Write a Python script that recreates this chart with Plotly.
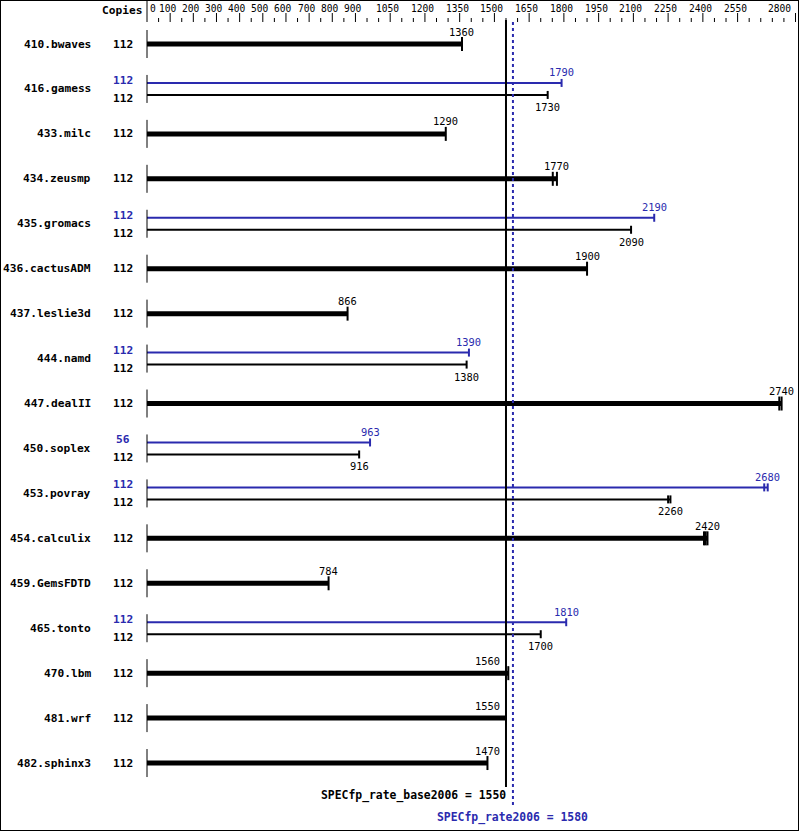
import plotly.graph_objects as go

# ---------------- data ----------------
benchmarks = ["410.bwaves", "416.gamess", "433.milc", "434.zeusmp", "435.gromacs",
              "436.cactusADM", "437.leslie3d", "444.namd", "447.dealII", "450.soplex",
              "453.povray", "454.calculix", "459.GemsFDTD", "465.tonto", "470.lbm",
              "481.wrf", "482.sphinx3"]
base_values = [1360, 1730, 1290, 1770, 2090, 1900, 866, 1380, 2740, 916,
               2260, 2420, 784, 1700, 1560, 1550, 1470]
peak_values = [None, 1790, None, None, 2190, None, None, 1390, None, 963,
               2680, None, None, 1810, None, None, None]
base_copies = [112] * 17
peak_copies = [None, 112, None, None, 112, None, None, 112, None, 56,
               112, None, None, 112, None, None, None]
# extra run markers (other runs' results shown as small ticks)
extra_base_runs = {3: [1752], 8: [2730], 10: [2250], 11: [2405, 2412]}
extra_peak_runs = {10: [2665]}

tick_labels = [0, 100, 200, 300, 400, 500, 600, 700, 800, 900, 1050, 1200, 1350,
               1500, 1650, 1800, 1950, 2100, 2250, 2400, 2550, 2800]
minor_ticks = [v for v in range(50, 2800, 50) if v not in tick_labels]
base_score = 1550
peak_score = 1580

# ---------------- geometry ----------------
W, H = 799, 831
X0_PX, X_END_PX, X_MAX = 147, 795.5, 2800
S = (X_END_PX - X0_PX) / X_MAX
def px(p):
    return (p - X0_PX) / S

ROW0, DY = 44, 44.94
BLACK = "#000000"
BLUE = "#2a2aae"
MONO = "DejaVu Sans Mono"

fig = go.Figure()
ann = []

def seg_trace(xs, ys, color, width, dash=None):
    fig.add_trace(go.Scatter(x=xs, y=ys, mode="lines", hoverinfo="skip",
                             line=dict(color=color, width=width, dash=dash),
                             showlegend=False))

def text(x, y, t, color=BLACK, size=10.4, bold=False, xanchor="center"):
    ann.append(dict(x=x, y=y, xref="x", yref="y", text=f"<b>{t}</b>" if bold else t,
                    showarrow=False, xanchor=xanchor, yanchor="middle",
                    font=dict(family=MONO, size=size, color=color)))

axis_x, axis_y = [], []
for i, name in enumerate(benchmarks):
    yc = ROW0 + i * DY
    axis_x += [0, 0, None]
    axis_y += [yc - 14, yc + 14, None]
    text(px(93), yc, name, size=11.2, bold=True, xanchor="right")
    b = base_values[i]
    p = peak_values[i]
    if p is None:
        seg_trace([0, b], [yc, yc], BLACK, 5)
        tx, ty = [b, b, None], [yc - 7, yc + 7, None]
        for r in extra_base_runs.get(i, []):
            tx += [r, r, None]; ty += [yc - 7, yc + 7, None]
        seg_trace(tx, ty, BLACK, 2)
        if abs(b - base_score) < 60:
            # keep the label clear of the base reference line
            text(base_score - px(X0_PX + 4), yc - 12.5, str(b), xanchor="right")
        else:
            text(b, yc - 12.5, str(b))
        text(px(123), yc, str(base_copies[i]), size=11.2, bold=True)
    else:
        yp, yb = yc - 6, yc + 6
        seg_trace([0, p], [yp, yp], BLUE, 2)
        tx, ty = [p, p, None], [yp - 4, yp + 4, None]
        for r in extra_peak_runs.get(i, []):
            tx += [r, r, None]; ty += [yp - 4, yp + 4, None]
        seg_trace(tx, ty, BLUE, 2)
        seg_trace([0, b], [yb, yb], BLACK, 2)
        tx, ty = [b, b, None], [yb - 4, yb + 4, None]
        for r in extra_base_runs.get(i, []):
            tx += [r, r, None]; ty += [yb - 4, yb + 4, None]
        seg_trace(tx, ty, BLACK, 2)
        text(p, yp - 10.5, str(p), color=BLUE)
        text(b, yb + 12, str(b))
        text(px(123), yc - 8.5, str(peak_copies[i]), color=BLUE, size=11.2, bold=True)
        text(px(123), yc + 9.5, str(base_copies[i]), size=11.2, bold=True)

seg_trace(axis_x, axis_y, BLACK, 1)

# top scale
seg_trace([0, 0], [0, 22], BLACK, 1)
mx, my = [], []
for v in tick_labels[1:]:
    mx += [v, v, None]; my += [13, 22, None]
seg_trace(mx, my, BLACK, 1)
nx, ny = [], []
for v in minor_ticks:
    nx += [v, v, None]; ny += [18, 22, None]
seg_trace(nx, ny, BLACK, 1)
for v in tick_labels:
    xa = "center"
    if v == 0:
        xa = "left"
    elif v == X_MAX:
        xa = "right"
    xv = v + px(X0_PX + 1) if v == 0 else (v - px(X0_PX + 3) if v == X_MAX else v - px(X0_PX + 2.5))
    text(xv, 8, str(v), size=9.6, xanchor=xa)
text(px(122), 10, "Copies", size=11.2, bold=True)

# reference lines
seg_trace([base_score, base_score], [20, 787], BLACK, 2)
seg_trace([peak_score, peak_score], [22, 808], BLUE, 2, dash="dot")
text(base_score + px(X0_PX + 2), 795, f"SPECfp_rate_base2006 = {base_score}", size=11.4,
     bold=True, xanchor="right")
text(peak_score, 817, f"SPECfp_rate2006 = {peak_score}", color=BLUE, size=11.4, bold=True)

fig.update_layout(
    width=W, height=H, margin=dict(l=0, r=0, t=0, b=0),
    paper_bgcolor="white", plot_bgcolor="white",
    xaxis=dict(range=[px(0), px(W)], visible=False, fixedrange=True),
    yaxis=dict(range=[H, 0], visible=False, fixedrange=True),
    annotations=ann,
    shapes=[dict(type="rect", xref="paper", yref="paper", x0=0, x1=1, y0=0, y1=1,
                 line=dict(color=BLACK, width=2))],
)
fig.write_html("out.html", config={"displayModeBar": False},
               post_script="document.body.style.margin='0';document.body.style.overflow='hidden';")
